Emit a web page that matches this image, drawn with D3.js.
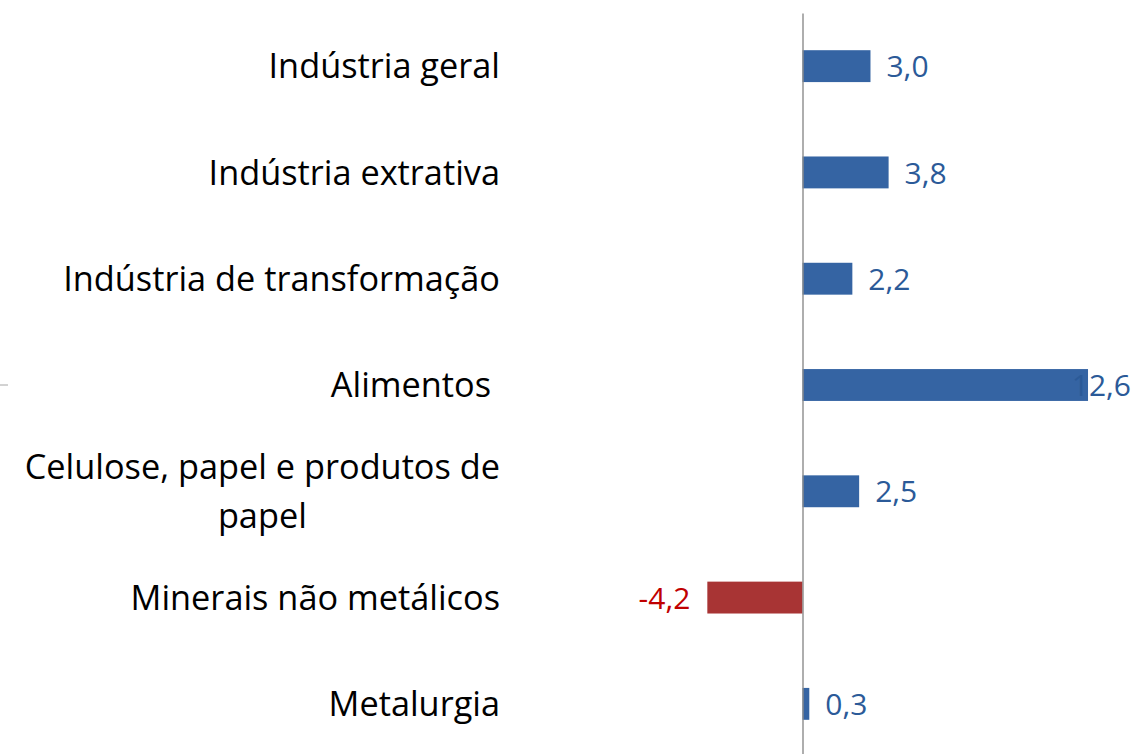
<!DOCTYPE html>
<html>
<head>
<meta charset="utf-8">
<script src="https://cdn.jsdelivr.net/npm/d3@7"></script>
<style>
  html, body { margin: 0; padding: 0; background: #ffffff; }
  svg { display: block; }
  text { font-family: "Open Sans", "DejaVu Sans", sans-serif; }
</style>
</head>
<body>
<svg id="chart" width="1138" height="754"></svg>
<script>
// ---- data ----
const categories = [
  "Indústria geral",
  "Indústria extrativa",
  "Indústria de transformação",
  "Alimentos ",
  "Celulose, papel e produtos de papel",
  "Minerais não metálicos",
  "Metalurgia"
];
const values = [3.0, 3.8, 2.2, 12.6, 2.5, -4.2, 0.3];
const valueLabels = ["3,0", "3,8", "2,2", "12,6", "2,5", "-4,2", "0,3"];
const xDomain = [-6, 14.5];

// ---- layout ----
const W = 1138, H = 754;
const zeroX = 802.5, pxPerUnit = 22.66;
const svg = d3.select("#chart");

const x = d3.scaleLinear()
  .domain(xDomain)
  .range([zeroX + xDomain[0] * pxPerUnit, zeroX + xDomain[1] * pxPerUnit]);

const y = d3.scaleBand()
  .domain(categories)
  .range([13, 757])
  .paddingInner(0.7)
  .paddingOuter(0.35);

const posBar = "#3564A3", negBar = "#A83434";
const posText = "#2B5A98", negText = "#C00000";

// bars
svg.append("g").selectAll("rect")
  .data(categories)
  .join("rect")
  .attr("x", (d, i) => x(Math.min(0, values[i])))
  .attr("y", d => y(d))
  .attr("width", (d, i) => Math.abs(x(values[i]) - x(0)))
  .attr("height", y.bandwidth())
  .attr("fill", (d, i) => values[i] < 0 ? negBar : posBar);

// vertical axis (category axis at zero)
const axis = svg.append("g")
  .attr("transform", `translate(${x(0)},0)`)
  .call(d3.axisLeft(y).tickSize(0).tickSizeOuter(0).tickFormat(""));
axis.select(".domain").attr("stroke", "#8c8c8c").attr("stroke-width", 1.4);

// small stray tick at left edge
svg.append("line")
  .attr("x1", 0).attr("x2", 8)
  .attr("y1", y(categories[3]) + y.bandwidth() / 2)
  .attr("y2", y(categories[3]) + y.bandwidth() / 2)
  .attr("stroke", "#a6a6a6").attr("stroke-width", 1);

// category labels
const labelRight = 500;
const maxLabelW = 482;
const probe = svg.append("text").attr("font-size", 100).text("Indústria de transformação");
const probeW = probe.node().getComputedTextLength();
probe.remove();
const catFont = 100 * 437 / probeW;
const catCap = 0.714 * catFont;
const lineH = catFont * 1.42;

function measure(str, fs) {
  const t = svg.append("text").attr("font-size", fs).style("white-space", "pre").text(str);
  const w = t.node().getComputedTextLength();
  t.remove();
  return w;
}
function wrap(str, fs, maxW) {
  const words = str.trim().split(" ");
  const lines = [];
  let cur = "";
  words.forEach(w => {
    const test = cur ? cur + " " + w : w;
    if (cur && measure(test, fs) > maxW) { lines.push(cur); cur = w; }
    else cur = test;
  });
  if (cur) lines.push(cur);
  return lines;
}

const catG = svg.append("g");
categories.forEach(c => {
  const yc = y(c) + y.bandwidth() / 2;
  const lines = wrap(c, catFont, maxLabelW);
  if (lines.length === 1) {
    catG.append("text")
      .attr("x", labelRight)
      .attr("y", yc + catCap / 2)
      .attr("text-anchor", "end")
      .attr("font-size", catFont)
      .attr("fill", "#000")
      .style("white-space", "pre")
      .text(c);
  } else {
    const widths = lines.map(l => measure(l, catFont));
    const maxW = d3.max(widths);
    const cx = labelRight - maxW / 2;
    const base0 = yc + catCap / 2 - (lines.length - 1) * lineH / 2;
    lines.forEach((l, k) => {
      catG.append("text")
        .attr("x", cx)
        .attr("y", base0 + k * lineH)
        .attr("text-anchor", "middle")
        .attr("font-size", catFont)
        .attr("fill", "#000")
        .text(l);
    });
  }
});

// value labels
const valFont = 30;
const valCap = 0.714 * valFont;
svg.append("g").selectAll("text")
  .data(categories)
  .join("text")
  .attr("font-size", valFont)
  .attr("fill", (d, i) => values[i] < 0 ? negText : posText)
  .attr("y", d => y(d) + y.bandwidth() / 2 + valCap / 2 + 0.5)
  .text((d, i) => valueLabels[i])
  .each(function(d, i) {
    const w = this.getComputedTextLength();
    const end = x(values[i]);
    let xx;
    if (values[i] < 0) xx = end - 17 - w;
    else xx = Math.min(end + 16, 1131 - w);
    d3.select(this).attr("x", xx);
  });
</script>
</body>
</html>
